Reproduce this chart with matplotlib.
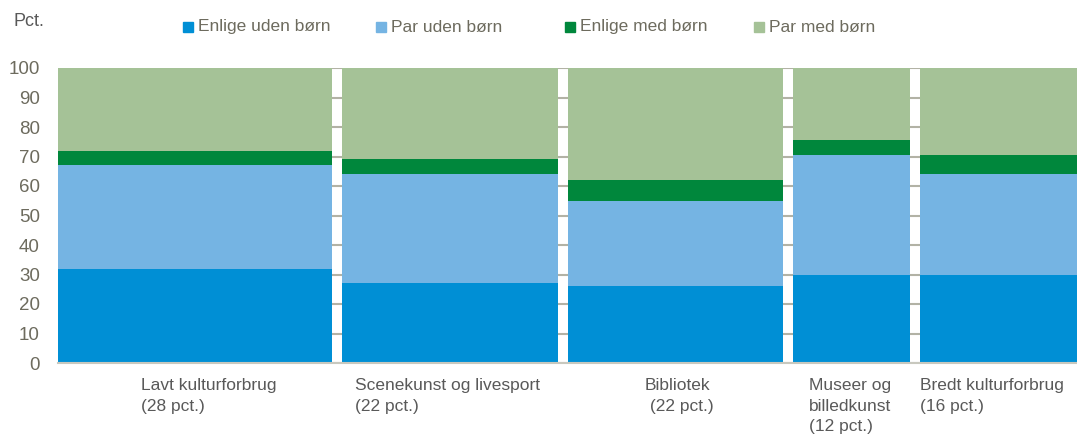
import numpy as np
import matplotlib.pyplot as plt
from matplotlib.patches import Rectangle

plt.rcParams['font.family'] = ['Liberation Sans', 'DejaVu Sans']

categories = ["Lavt kulturforbrug\n(28 pct.)", "Scenekunst og livesport\n(22 pct.)",
              "Bibliotek\n (22 pct.)", "Museer og\nbilledkunst\n(12 pct.)",
              "Bredt kulturforbrug\n(16 pct.)"]
shares = [28, 22, 22, 12, 16]
series = ["Enlige uden børn", "Par uden børn", "Enlige med børn", "Par med børn"]
enlige_uden = [32, 27, 26, 30, 30]
par_uden = [35, 37, 29, 40.5, 34]
enlige_med = [5, 5, 7, 5, 6.5]
par_med = [28, 31, 38, 24.5, 29.5]

colors = ["#008FD5", "#75B4E3", "#00873C", "#A5C297"]
gap = 1.0
label_offset = [8.5, 1.3, 7.9, 1.6, 0.0]
legend_x = [183, 376, 565, 754]  # pixel positions of legend markers

W, H = 1077, 443
fig = plt.figure(figsize=(W / 100, H / 100), dpi=100)
ax = fig.add_axes([58 / W, 1 - 363 / H, 1 - 58 / W, (363 - 68) / H])

lefts = np.cumsum([0] + shares[:-1]) + gap * np.arange(len(shares))
bottom = np.zeros(len(shares))
for vals, col in zip([enlige_uden, par_uden, enlige_med, par_med], colors):
    ax.bar(lefts, vals, width=shares, bottom=bottom, align='edge', color=col,
           edgecolor='none', zorder=2)
    bottom += np.array(vals)

ax.set_xlim(0, lefts[-1] + shares[-1])
ax.set_ylim(0, 100)
ax.set_yticks(range(0, 101, 10))
ax.yaxis.grid(True, color='#B2B2A5', lw=1.5, zorder=0)
ax.set_xticks([])
for s in ['top', 'right', 'left']:
    ax.spines[s].set_visible(False)
ax.spines['bottom'].set_color('#C8C8BE')
ax.spines['bottom'].set_linewidth(1.5)
ax.tick_params(axis='y', length=0, labelsize=13.5, labelcolor='#6D6B5E', pad=13)

for lx, off, cat in zip(lefts, label_offset, categories):
    ax.text(lx + off, -5.2, cat, ha='left', va='top', fontsize=12.5,
            color='#595959', linespacing=1.45)

fig.text(14 / W, 1 - 22 / H, "Pct.", fontsize=13, color='#595959', va='center')

# legend drawn by hand to match the column spacing
for px, col, name in zip(legend_x, colors, series):
    fig.add_artist(Rectangle((px / W, 1 - 32 / H), 10 / W, 10 / H, color=col,
                             transform=fig.transFigure))
    fig.text((px + 15) / W, 1 - 27 / H, name, fontsize=12.5, color='#6D6B5E',
             va='center', ha='left')

fig.savefig("out.png", dpi=100)
